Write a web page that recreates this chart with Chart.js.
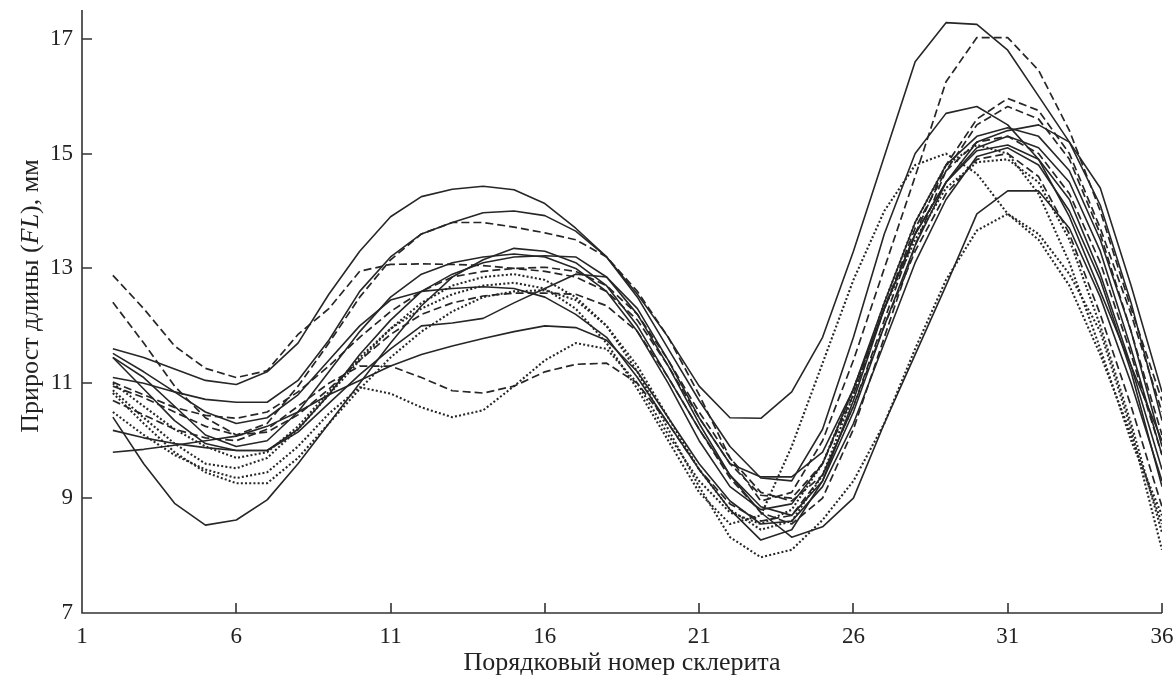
<!DOCTYPE html>
<html>
<head>
<meta charset="utf-8">
<script src="https://cdn.jsdelivr.net/npm/chart.js@4.4.1/dist/chart.umd.min.js"></script>
<style>
  html, body { margin: 0; padding: 0; background: #ffffff; }
  #wrap { width: 1175px; height: 680px; }
</style>
</head>
<body>
<div id="wrap"><canvas id="c" width="1175" height="680"></canvas></div>
<script>
// ---------- data ----------
const sclerite = [2,3,4,5,6,7,8,9,10,11,12,13,14,15,16,17,18,19,20,21,22,23,24,25,26,27,28,29,30,31,32,33,34,35,36];
const xTicks = [1, 6, 11, 16, 21, 26, 31, 36];
const yTicks = [7, 9, 11, 13, 15, 17];

const s1 = [11.60,11.45,11.25,11.05,10.98,11.20,11.70,12.55,13.30,13.90,14.25,14.38,14.43,14.37,14.13,13.70,13.20,12.55,11.80,10.95,10.40,10.39,10.85,11.80,13.30,14.95,16.60,17.28,17.25,16.80,16.00,15.20,14.40,12.70,10.85];
const s2 = [11.10,11.00,10.85,10.72,10.67,10.67,11.05,11.75,12.60,13.20,13.60,13.80,13.97,14.00,13.92,13.65,13.20,12.50,11.60,10.70,9.90,9.35,9.30,10.20,11.80,13.60,15.00,15.70,15.82,15.50,14.90,13.90,12.60,11.30,10.00];
const s3 = [10.41,9.60,8.91,8.53,8.62,8.97,9.60,10.30,11.00,11.70,12.35,12.85,13.15,13.35,13.30,13.10,12.70,12.00,11.10,10.20,9.40,8.85,8.70,9.30,10.50,12.00,13.40,14.50,15.20,15.40,15.50,15.20,14.10,12.40,10.35];
const s4 = [11.45,10.90,10.35,9.95,9.83,9.83,10.20,10.80,11.50,12.10,12.60,12.90,13.10,13.20,13.22,13.20,12.85,12.20,11.30,10.30,9.40,8.75,8.32,8.50,9.00,10.30,11.50,12.70,13.95,14.35,14.35,13.70,12.50,11.00,9.30];
const s5 = [10.18,10.05,9.95,9.88,9.83,9.83,10.15,10.65,11.15,11.60,12.00,12.05,12.13,12.40,12.65,12.90,12.85,12.30,11.40,10.40,9.60,9.37,9.37,9.80,10.90,12.30,13.60,14.50,15.10,15.30,15.10,14.50,13.30,11.60,9.75];
const s6 = [9.80,9.85,9.92,10.00,10.08,10.25,10.50,10.80,11.05,11.30,11.50,11.65,11.78,11.90,12.00,11.97,11.75,11.20,10.40,9.60,8.95,8.55,8.60,9.20,10.30,11.70,13.10,14.20,14.95,15.10,14.80,14.00,12.80,11.20,9.20];
const s7 = [11.52,11.20,10.85,10.50,10.30,10.40,10.80,11.40,12.00,12.45,12.60,12.65,12.68,12.65,12.50,12.20,11.80,11.10,10.30,9.50,8.80,8.27,8.45,9.30,10.70,12.30,13.60,14.50,15.05,15.15,14.90,14.20,12.90,11.30,9.50];
const s8 = [11.45,11.10,10.60,10.10,9.90,10.00,10.50,11.20,11.90,12.50,12.90,13.10,13.20,13.25,13.20,13.00,12.60,11.90,11.00,10.00,9.20,8.80,8.90,9.60,10.90,12.40,13.80,14.80,15.30,15.45,15.30,14.70,13.50,11.90,9.90];
const d1 = [12.88,12.30,11.65,11.26,11.10,11.22,11.85,12.30,12.95,13.07,13.08,13.07,13.05,13.00,12.95,12.85,12.60,12.10,11.30,10.40,9.60,9.05,9.00,9.60,10.80,12.30,13.70,14.70,15.20,15.30,15.00,14.30,13.10,11.50,9.75];
const d2 = [12.41,11.70,10.95,10.40,10.10,10.30,10.95,11.70,12.50,13.15,13.60,13.80,13.80,13.72,13.62,13.50,13.20,12.60,11.80,10.80,9.70,8.95,9.10,10.00,11.40,13.00,14.60,16.25,17.02,17.02,16.45,15.40,14.00,12.30,10.70];
const d3 = [11.02,10.80,10.58,10.44,10.39,10.50,10.85,11.30,11.80,12.25,12.60,12.85,12.95,13.00,13.02,12.95,12.70,12.20,11.40,10.50,9.70,9.10,8.95,9.40,10.60,12.10,13.60,14.80,15.60,15.96,15.75,15.00,13.70,12.20,10.50];
const d4 = [10.95,10.75,10.50,10.25,10.10,10.15,10.45,10.90,11.40,11.85,12.20,12.40,12.52,12.57,12.57,12.55,12.35,11.90,11.10,10.20,9.35,8.75,8.55,9.00,10.20,11.80,13.40,14.70,15.50,15.82,15.60,14.90,13.60,11.90,10.10];
const d5 = [10.70,10.45,10.20,10.05,10.00,10.20,10.60,11.00,11.30,11.30,11.10,10.87,10.83,10.95,11.20,11.33,11.35,11.00,10.30,9.50,8.90,8.60,8.70,9.40,10.60,12.00,13.30,14.30,14.90,15.00,14.60,13.60,12.20,10.60,8.85];
const t1 = [10.88,10.40,9.95,9.60,9.52,9.70,10.20,10.80,11.40,11.95,12.40,12.70,12.85,12.90,12.80,12.50,12.00,11.30,10.40,9.50,8.80,8.45,8.60,9.40,10.80,12.40,13.80,14.80,15.15,15.00,14.30,13.10,11.60,10.00,8.70];
const t2 = [10.83,10.30,9.80,9.45,9.26,9.26,9.70,10.30,10.90,11.45,11.90,12.25,12.50,12.60,12.62,12.45,12.00,11.20,10.20,9.20,8.32,7.97,8.10,8.62,9.30,10.30,11.60,12.80,13.66,13.95,13.50,12.70,11.50,10.10,8.55];
const t3 = [10.50,10.10,9.75,9.50,9.35,9.45,9.90,10.47,10.93,10.82,10.58,10.41,10.53,10.95,11.40,11.70,11.60,11.00,10.10,9.30,8.75,8.55,8.80,9.60,10.90,12.30,13.50,14.40,14.85,14.90,14.50,13.50,12.00,10.30,8.40];
const t4 = [11.00,10.60,10.20,9.90,9.70,9.80,10.25,10.85,11.45,11.95,12.30,12.55,12.70,12.75,12.65,12.30,11.70,10.90,10.00,9.10,8.55,8.70,9.90,11.35,12.80,14.00,14.80,15.00,14.65,13.95,13.60,12.90,11.90,10.20,8.10];

const solidSeries = [s1, s2, s3, s4, s5, s6, s7, s8];
const dashedSeries = [d1, d2, d3, d4, d5];
const dottedSeries = [t1, t2, t3, t4];

// ---------- styling ----------
const LINE = '#262626';
const FONT = "'Liberation Serif', 'DejaVu Serif', serif";

function mk(values, dash, width) {
  return {
    data: values.map((v, i) => ({ x: sclerite[i], y: v })),
    borderColor: LINE,
    borderWidth: width,
    borderDash: dash,
    borderCapStyle: 'butt',
    borderJoinStyle: 'round',
    pointRadius: 0,
    tension: 0,
    fill: false
  };
}

const datasets = [
  ...dottedSeries.map(s => mk(s, [2, 2.2], 2.1)),
  ...dashedSeries.map(s => mk(s, [8, 4], 1.7)),
  ...solidSeries.map(s => mk(s, [], 1.6))
];

function zeroPad(s) { s.paddingLeft = 0; s.paddingRight = 0; s.paddingTop = 0; s.paddingBottom = 0; }

const axesPlugin = {
  id: 'axesPlugin',
  afterDraw(chart) {
    const { ctx, chartArea: a, scales: { x, y } } = chart;
    ctx.save();
    ctx.strokeStyle = '#333';
    ctx.lineWidth = 1.6;
    ctx.setLineDash([]);
    ctx.beginPath();
    ctx.moveTo(a.left, a.top);
    ctx.lineTo(a.left, a.bottom);
    ctx.lineTo(a.right, a.bottom);
    x.ticks.forEach(t => {
      if (t.value === xTicks[0]) return;
      const px = Math.round(x.getPixelForValue(t.value));
      ctx.moveTo(px, a.bottom);
      ctx.lineTo(px, a.bottom - 10);
    });
    y.ticks.forEach(t => {
      if (t.value === yTicks[0]) return;
      const py = Math.round(y.getPixelForValue(t.value));
      ctx.moveTo(a.left, py);
      ctx.lineTo(a.left + 10, py);
    });
    ctx.stroke();

    // x title
    ctx.fillStyle = '#222';
    ctx.font = '26px ' + FONT;
    ctx.textAlign = 'center';
    ctx.textBaseline = 'middle';
    ctx.fillText('Порядковый номер склерита', (a.left + a.right) / 2, 663);

    // y title (rotated, with italic FL)
    const parts = [
      { t: 'Прирост длины (', f: '26px ' + FONT },
      { t: 'FL', f: 'italic 26px ' + FONT },
      { t: '), мм', f: '26px ' + FONT }
    ];
    let total = 0;
    parts.forEach(p => { ctx.font = p.f; p.w = ctx.measureText(p.t).width; total += p.w; });
    ctx.translate(31, 296);
    ctx.rotate(-Math.PI / 2);
    ctx.textAlign = 'left';
    ctx.textBaseline = 'middle';
    let cx = -total / 2;
    parts.forEach(p => { ctx.font = p.f; ctx.fillText(p.t, cx, 0); cx += p.w; });
    ctx.restore();
  }
};

new Chart(document.getElementById('c'), {
  type: 'line',
  data: { datasets },
  options: {
    responsive: false,
    animation: false,
    events: [],
    layout: { padding: { left: 0, right: 13, top: 10, bottom: 0 } },
    plugins: { legend: { display: false }, tooltip: { enabled: false } },
    scales: {
      x: {
        type: 'linear',
        min: 1, max: 36,
        afterBuildTicks: s => { s.ticks = xTicks.map(v => ({ value: v })); },
        afterFit: s => { s.height = 67; zeroPad(s); },
        grid: { display: false, drawTicks: false },
        border: { display: false },
        ticks: { color: '#222', font: { family: FONT, size: 23 }, padding: 10, maxRotation: 0, autoSkip: false }
      },
      y: {
        type: 'linear',
        min: 7, max: 17.5,
        afterBuildTicks: s => { s.ticks = yTicks.map(v => ({ value: v })); },
        afterFit: s => { s.width = 82; zeroPad(s); },
        grid: { display: false, drawTicks: false },
        border: { display: false },
        ticks: { color: '#222', font: { family: FONT, size: 23 }, padding: 9, autoSkip: false }
      }
    }
  },
  plugins: [axesPlugin]
});
</script>
</body>
</html>
